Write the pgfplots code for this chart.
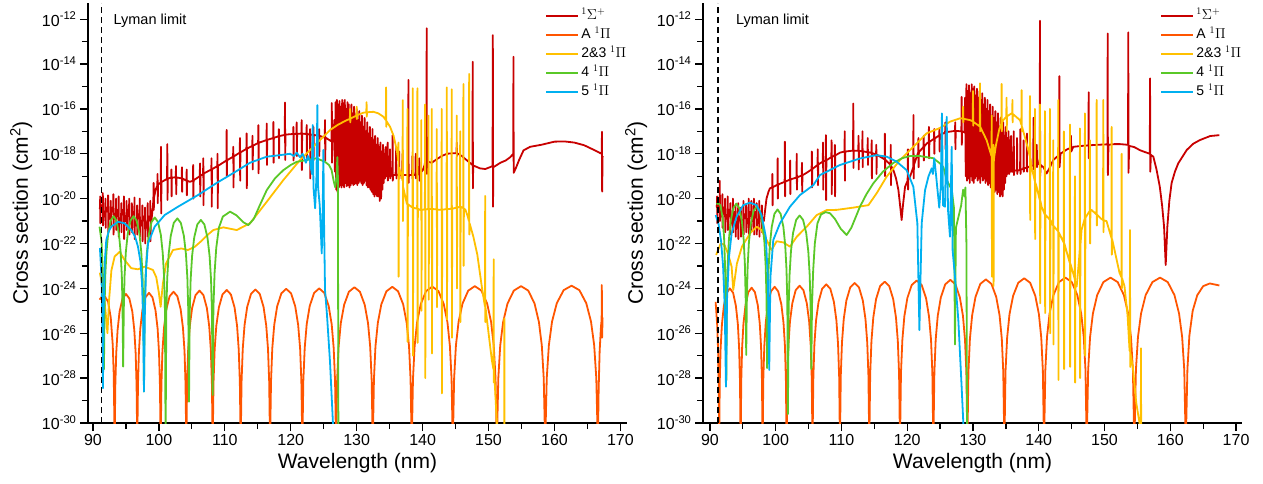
\documentclass[border=0pt]{standalone}
\usepackage{fontspec}
\setmainfont{Liberation Sans}
\usepackage{pgfplots}
\pgfplotsset{compat=1.18}
\definecolor{cS}{RGB}{200,0,0}
\definecolor{cA}{RGB}{255,85,0}
\definecolor{cY}{RGB}{255,192,0}
\definecolor{cG}{RGB}{90,200,40}
\definecolor{cB}{RGB}{0,176,240}
\pgfplotsset{
 panel/.style={
  scale only axis, width=539pt, height=420pt,
  axis x line*=bottom, axis y line*=left, axis line style={-, line width=1.3pt},
  ymin=-30, ymax=-11.28,
  ytick={-30,-28,...,-12}, minor ytick={-29,-27,...,-13},
  yticklabels={10\textsuperscript{-30},10\textsuperscript{-28},10\textsuperscript{-26},10\textsuperscript{-24},10\textsuperscript{-22},10\textsuperscript{-20},10\textsuperscript{-18},10\textsuperscript{-16},10\textsuperscript{-14},10\textsuperscript{-12}},
  xtick={90,100,...,170}, minor xtick={95,105,...,165},
  tick align=outside, major tick length=8pt, minor tick length=6pt,
  every tick/.style={black, line width=1.3pt},
  ticklabel style={font=\fontsize{16}{19}\selectfont},
  /pgf/number format/assume math mode=true,
  xlabel={Wavelength (nm)}, ylabel={Cross section (cm\textsuperscript{2})},
  label style={font=\fontsize{21}{24}\selectfont},
  xlabel style={at={(axis description cs:0.5,-0.095)}, anchor=center},
  ylabel style={at={(axis description cs:-0.124,0.5)}, anchor=center},
  legend style={at={(axis description cs:0.843,0.997)}, anchor=north west, draw=none, fill=none,
    font=\fontsize{14}{16}\selectfont, row sep=0pt, nodes={inner ysep=2.5pt, text height=10.5pt, text depth=3.5pt}},
  legend cell align=left,
  legend image code/.code={\draw[#1,line width=1.8pt] (0pt,0pt) -- (32pt,0pt);},
  every axis plot/.append style={line width=1.8pt, line join=round, no marks},
 }
}
\begin{document}
\begin{tikzpicture}
\useasboundingbox (-88pt,-60pt) rectangle (1175pt,423pt);
%================ LEFT PANEL =================
\begin{axis}[panel, xmin=89.25, xmax=171.0]
% 1Sigma+
\addplot[cS] coordinates {
(91.0,-20.4) (91.07,-20.45) (91.1,-19.9) (91.13,-21.1) (91.16,-20.5) (91.3,-20.3) (91.47,-20.55) (91.5,-19.75) (91.53,-21.2) (91.56,-20.6) (91.7,-20.8) (91.87,-20.5) (91.9,-20.0) (91.93,-21.3) (91.96,-20.55) (92.1,-20.4) (92.27,-20.6) (92.3,-19.85) (92.33,-21.5) (92.36,-20.65) (92.5,-20.9) (92.67,-20.6) (92.7,-20.1) (92.73,-21.2) (92.76,-20.6) (92.9,-20.4) (93.07,-20.6) (93.1,-19.8) (93.13,-21.6) (93.16,-20.65) (93.3,-20.9) (93.47,-20.7) (93.5,-20.0) (93.53,-21.4) (93.56,-20.7) (93.7,-20.5) (93.87,-20.8) (93.9,-19.9) (93.93,-21.7) (93.96,-20.85) (94.1,-21.1) (94.27,-20.8) (94.3,-20.2) (94.33,-21.5) (94.36,-20.8) (94.5,-20.5) (94.67,-20.7) (94.7,-19.9) (94.73,-21.8) (94.76,-20.75) (94.9,-21.0) (95.07,-20.7) (95.1,-20.1) (95.13,-21.4) (95.16,-20.75) (95.3,-20.5) (95.47,-20.8) (95.5,-20.0) (95.53,-21.6) (95.56,-20.85) (95.7,-21.1) (95.87,-20.8) (95.9,-20.2) (95.93,-21.5) (95.96,-20.8) (96.1,-20.6) (96.27,-20.85) (96.3,-19.95) (96.33,-21.8) (96.36,-20.9) (96.5,-21.2) (96.67,-20.9) (96.7,-20.3) (96.73,-21.6) (96.76,-20.9) (96.9,-20.7) (97.07,-20.9) (97.1,-20.0) (97.13,-21.7) (97.16,-20.95) (97.3,-21.2) (97.47,-21.0) (97.5,-20.3) (97.53,-21.9) (97.56,-21.0) (97.7,-20.8) (97.87,-21.0) (97.9,-20.4) (97.93,-22.0) (97.96,-21.05) (98.1,-21.3) (98.27,-21.0) (98.3,-20.2) (98.33,-21.7) (98.36,-21.0) (98.5,-20.8) (98.67,-21.0) (98.7,-20.1) (98.73,-21.9) (98.76,-21.0) (98.9,-20.9)
(99.0,-20.6) (99.16,-20.1) (99.2,-19.3) (99.23,-20.5) (99.27,-19.95) (99.5,-19.6)
(99.76,-19.42) (99.8,-18.9) (99.83,-20.2) (99.87,-19.38)
(100.28,-19.28) (100.32,-17.69) (100.35,-20.66) (100.39,-19.26)
(101.24,-19.12) (101.28,-17.57) (101.31,-20.06) (101.35,-19.11)
(101.86,-19.06) (101.9,-18.7) (101.93,-19.9) (101.97,-19.06)
(102.56,-19.05) (102.6,-18.55) (102.63,-19.8) (102.67,-19.05)
(103.46,-19.1) (103.5,-18.6) (103.53,-19.7) (103.57,-19.1)
(104.18,-19.2) (104.22,-18.7) (104.25,-19.85) (104.29,-19.2) (104.7,-19.25)
(105.16,-19.2) (105.2,-18.5) (105.23,-20.0) (105.27,-19.18)
(106.2,-19.0) (106.24,-18.43) (106.27,-19.9) (106.31,-18.98)
(106.7,-18.9) (106.74,-18.2) (106.77,-20.29) (106.81,-18.88)
(107.95,-18.7) (107.99,-18.2) (108.02,-20.36) (108.06,-18.69)
(108.86,-18.55) (108.9,-18.0) (108.93,-20.43) (108.97,-18.54) (109.6,-18.42)
(110.24,-18.3) (110.28,-16.94) (110.31,-19.0) (110.35,-18.29)
(111.25,-18.13) (111.29,-17.69) (111.32,-19.5) (111.36,-18.12)
(112.26,-17.95) (112.3,-17.3) (112.33,-19.2) (112.37,-17.94)
(113.27,-17.78) (113.31,-17.09) (113.34,-19.54) (113.38,-17.77)
(114.16,-17.65) (114.2,-17.2) (114.23,-18.7) (114.27,-17.64)
(115.05,-17.52) (115.09,-16.72) (115.12,-18.87) (115.16,-17.51)
(116.32,-17.39) (116.36,-16.65) (116.39,-18.5) (116.43,-17.38)
(117.33,-17.3) (117.37,-16.58) (117.4,-18.4) (117.44,-17.29)
(118.16,-17.22) (118.2,-16.9) (118.23,-18.2) (118.27,-17.21)
(119.09,-17.16) (119.13,-15.72) (119.16,-18.28) (119.2,-17.15) (119.8,-17.13)
(120.36,-17.12) (120.4,-16.8) (120.43,-18.3) (120.47,-17.12)
(120.86,-17.11) (120.9,-16.6) (120.93,-18.1) (120.97,-17.11)
(121.62,-17.1) (121.66,-16.5) (121.69,-18.73) (121.73,-17.1)
(122.38,-17.12) (122.42,-16.72) (122.45,-18.2) (122.49,-17.12)
(122.89,-17.14) (122.93,-16.9) (122.96,-19.1) (123.0,-17.14)
(123.39,-17.16) (123.43,-16.8) (123.46,-18.3) (123.5,-17.16)
(124.26,-17.2) (124.3,-16.9) (124.33,-18.1) (124.37,-17.2)
(125.16,-17.28) (125.2,-16.5) (125.23,-18.3) (125.27,-17.28)
(126.19,-17.45) (126.23,-15.74) (126.26,-18.4) (126.3,-17.45) (126.5,-17.45)
(126.6,-16.5) (126.7,-18.8) (126.8,-15.7) (126.9,-19.6) (127.0,-15.6) (127.1,-19.7) (127.2,-15.8) (127.3,-19.5) (127.4,-15.65) (127.5,-19.4) (127.6,-15.9) (127.7,-19.5) (127.8,-15.6) (127.9,-19.4) (128.0,-15.75) (128.1,-19.5) (128.2,-15.6) (128.3,-19.3) (128.4,-16.0) (128.5,-19.45) (128.6,-15.7) (128.7,-19.4) (128.8,-15.8) (128.9,-19.5) (129.0,-16.1) (129.1,-19.4) (129.2,-15.8) (129.3,-19.3) (129.4,-16.2) (129.5,-19.4) (129.6,-15.9) (129.7,-19.35) (129.8,-16.4) (129.9,-19.3) (130.0,-16.0) (130.1,-19.4) (130.2,-16.5) (130.3,-19.3) (130.4,-16.1) (130.5,-19.2) (130.6,-16.6) (130.7,-19.3) (130.8,-16.3) (130.9,-19.4) (131.0,-16.8) (131.1,-19.3) (131.2,-16.4) (131.3,-19.2) (131.4,-17.0) (131.5,-19.4) (131.6,-16.6) (131.7,-19.5) (131.8,-17.1) (131.9,-19.5) (132.0,-16.8) (132.1,-19.6) (132.2,-17.3) (132.3,-19.7) (132.4,-16.9) (132.5,-19.8) (132.6,-17.4) (132.7,-19.9) (132.8,-17.2) (132.9,-19.8) (133.0,-17.6) (133.1,-19.9) (133.2,-17.3) (133.3,-19.9) (133.4,-17.7) (133.5,-20.1) (133.6,-17.5) (133.7,-20.0) (133.8,-17.9) (133.9,-19.6) (134.0,-17.6) (134.1,-19.3) (134.2,-18.0) (134.3,-19.1) (134.4,-17.7) (134.5,-19.0)
(134.6,-19.0) (134.7,-17.5) (134.73,-19.2) (134.77,-19.0) (135.0,-19.0) (135.05,-17.8) (135.08,-19.1) (135.12,-19.0) (135.4,-18.95) (135.45,-17.17) (135.48,-19.2) (135.52,-18.95) (135.9,-18.95) (136.0,-17.7) (136.03,-19.1) (136.07,-18.95) (136.4,-18.95) (136.45,-17.9) (136.48,-19.1) (136.52,-18.95) (136.9,-18.95) (136.95,-18.0) (136.98,-19.1) (137.02,-18.95) (137.81,-18.95) (137.85,-14.71) (137.88,-19.3) (137.92,-18.95) (138.4,-18.95) (138.45,-18.1) (138.48,-19.1) (138.52,-18.95) (138.9,-18.95) (138.95,-18.0) (138.98,-19.1) (139.02,-18.95) (139.45,-18.9) (139.5,-18.2) (139.53,-19.2) (139.57,-18.87)
(140.0,-18.75) (140.3,-18.5) (140.5,-18.1) (140.58,-17.5) (140.62,-12.41) (140.65,-18.9) (140.75,-18.35) (141.4,-18.4) (142.1,-18.25) (142.9,-18.1) (143.7,-18.0) (144.42,-17.98) (145.14,-17.98) (145.18,-17.5) (145.21,-18.1) (145.25,-17.98) (145.94,-18.1) (146.95,-18.35) (147.56,-18.5) (147.6,-13.9) (147.63,-19.54) (147.67,-18.52) (148.7,-18.65) (149.5,-18.68) (150.2,-18.6) (150.61,-18.55) (150.65,-12.71) (150.68,-20.36) (150.72,-18.6) (151.0,-18.55) (151.8,-18.4) (152.6,-18.3) (153.3,-18.15) (153.74,-18.0) (153.78,-13.68) (153.81,-18.85) (154.2,-18.6) (154.6,-18.3) (155.3,-17.85) (156.3,-17.69) (158.0,-17.6) (160.0,-17.46) (161.5,-17.45) (163.0,-17.5) (164.5,-17.62) (166.0,-17.83) (167.0,-17.98) (167.17,-18.0) (167.2,-17.02) (167.23,-19.69) (167.3,-18.1)
};
\addlegendentry{$^1\Sigma^+$}
% A 1Pi
\addplot[cA] coordinates {
(91.0,-24.5) (91.4,-24.35) (91.8,-24.35) (92.3,-24.6) (92.7,-25.3) (93.0,-26.5) (93.15,-27.8) (93.22,-29.3) (93.29,-31)
(93.39,-28.36) (93.53,-26.9) (93.74,-25.85) (94.04,-25.03) (94.49,-24.45) (95.01,-24.25) (95.52,-24.45) (95.97,-25.03) (96.27,-25.85) (96.48,-26.9) (96.62,-28.36) (96.72,-31)
(96.83,-28.31) (96.97,-26.85) (97.18,-25.8) (97.50,-24.98) (97.96,-24.4) (98.50,-24.2) (99.03,-24.4) (99.49,-24.98) (99.81,-25.8) (100.02,-26.85) (100.16,-28.31) (100.27,-31)
(100.39,-28.26) (100.54,-26.8) (100.78,-25.75) (101.13,-24.93) (101.63,-24.35) (102.22,-24.15) (102.80,-24.35) (103.30,-24.93) (103.65,-25.75) (103.89,-26.8) (104.04,-28.26) (104.16,-31)
(104.28,-28.21) (104.44,-26.75) (104.68,-25.7) (105.04,-24.88) (105.56,-24.3) (106.16,-24.1) (106.76,-24.3) (107.28,-24.88) (107.64,-25.7) (107.88,-26.75) (108.04,-28.21) (108.16,-31)
(108.29,-28.18) (108.46,-26.72) (108.71,-25.67) (109.10,-24.85) (109.65,-24.27) (110.29,-24.07) (110.92,-24.27) (111.48,-24.85) (111.86,-25.67) (112.11,-26.72) (112.28,-28.18) (112.41,-31)
(112.54,-28.16) (112.72,-26.7) (112.99,-25.65) (113.39,-24.83) (113.97,-24.25) (114.64,-24.05) (115.30,-24.25) (115.88,-24.83) (116.28,-25.65) (116.55,-26.7) (116.73,-28.16) (116.86,-31)
(117.01,-28.13) (117.20,-26.67) (117.50,-25.62) (117.94,-24.8) (118.58,-24.22) (119.31,-24.02) (120.05,-24.22) (120.68,-24.8) (121.12,-25.62) (121.42,-26.67) (121.61,-28.13) (121.76,-31)
(121.91,-28.11) (122.12,-26.65) (122.42,-25.6) (122.88,-24.78) (123.55,-24.2) (124.32,-24.0) (125.08,-24.2) (125.75,-24.78) (126.21,-25.6) (126.51,-26.65) (126.72,-28.11) (126.87,-31)
(127.04,-28.06) (127.26,-26.6) (127.59,-25.55) (128.10,-24.73) (128.82,-24.15) (129.66,-23.95) (130.49,-24.15) (131.22,-24.73) (131.72,-25.55) (132.05,-26.6) (132.27,-28.06) (132.44,-31)
(132.62,-28.04) (132.85,-26.58) (133.21,-25.53) (133.74,-24.71) (134.51,-24.13) (135.40,-23.93) (136.28,-24.13) (137.05,-24.71) (137.58,-25.53) (137.94,-26.58) (138.17,-28.04) (138.35,-31)
(138.54,-28.03) (138.79,-26.57) (139.16,-25.52) (139.72,-24.7) (140.53,-24.12) (141.47,-23.92) (142.40,-24.12) (143.21,-24.7) (143.77,-25.52) (144.14,-26.57) (144.39,-28.03) (144.58,-31)
(144.78,-28.01) (145.05,-26.55) (145.45,-25.5) (146.05,-24.68) (146.92,-24.1) (147.92,-23.9) (148.92,-24.1) (149.79,-24.68) (150.39,-25.5) (150.79,-26.55) (151.06,-28.01) (151.26,-31)
(151.48,-28.01) (151.77,-26.55) (152.21,-25.5) (152.87,-24.68) (153.83,-24.1) (154.93,-23.9) (156.03,-24.1) (156.98,-24.68) (157.64,-25.5) (158.08,-26.55) (158.37,-28.01) (158.59,-31)
(158.83,-27.99) (159.15,-26.53) (159.63,-25.48) (160.35,-24.66) (161.39,-24.08) (162.59,-23.88) (163.78,-24.08) (164.82,-24.66) (165.54,-25.48) (166.02,-26.53) (166.34,-27.99) (166.58,-31)
(166.7,-28.5) (166.85,-26.8) (167.05,-25.7) (167.15,-25.4) (167.18,-23.85) (167.22,-26.2) (167.3,-25.3)
};
\addlegendentry{A $^1\Pi$}
% 2&3 1Pi
\addplot[cY] coordinates {
(91.05,-23.3) (91.5,-24.0) (91.9,-25.0) (92.2,-26.0) (92.45,-24.5) (92.8,-23.2) (93.29,-22.58) (94.05,-22.37) (94.81,-22.74) (95.81,-23.1) (96.83,-23.15) (97.84,-23.03) (99.1,-23.18) (99.6,-23.5) (100.0,-24.2) (100.27,-24.82) (100.6,-23.8) (101.1,-22.88) (102.14,-22.29) (103.4,-22.22) (104.4,-22.29) (105.43,-22.15) (106.4,-21.9) (107.45,-21.6) (108.26,-21.4) (109.77,-21.28) (111.8,-21.4) (113.82,-21.1) (116.36,-20.14) (118.88,-19.17) (121.41,-18.28) (123.94,-17.54) (125.96,-16.94) (127.2,-16.7) (128.5,-16.5)
(128.96,-16.45) (129.0,-16.0) (129.03,-16.6) (129.07,-16.43) (129.96,-16.3) (130.0,-15.9) (130.03,-16.45) (130.07,-16.28) (131.02,-16.17) (131.46,-16.15) (131.5,-15.7) (131.53,-16.35) (131.57,-16.15) (132.54,-16.13) (133.3,-16.2) (134.05,-16.35) (134.42,-16.5) (134.46,-15.04) (134.49,-16.8) (134.53,-16.55) (135.07,-16.8) (135.6,-17.2) (136.08,-17.83) (136.29,-18.3) (136.33,-17.5) (136.36,-23.48) (136.4,-18.6) (136.84,-19.02) (136.95,-19.2) (136.99,-15.61) (137.02,-21.0) (137.06,-19.5) (137.6,-20.21) (137.66,-20.25) (137.7,-16.0) (137.73,-26.38) (137.77,-20.25) (138.47,-20.4) (138.51,-15.08) (138.54,-27.0) (138.58,-20.4) (139.17,-20.45) (139.21,-15.08) (139.24,-26.43) (139.28,-20.45) (139.6,-20.5) (139.76,-20.5) (139.8,-16.5) (139.83,-25.0) (139.87,-20.5) (140.34,-20.48) (140.38,-15.8) (140.41,-28.0) (140.45,-20.48) (140.86,-20.46) (140.9,-16.3) (140.93,-24.5) (140.97,-20.46) (141.35,-20.46) (141.39,-16.0) (141.42,-26.9) (141.46,-20.46) (142.11,-20.48) (142.15,-16.9) (142.18,-24.84) (142.22,-20.48) (142.5,-20.5) (142.86,-20.49) (142.9,-16.0) (142.93,-28.68) (142.97,-20.49) (143.63,-20.47) (143.67,-15.04) (143.7,-25.4) (143.74,-20.47) (144.38,-20.45) (144.42,-15.13) (144.45,-26.2) (144.49,-20.45) (145.14,-20.4) (145.18,-16.3) (145.21,-24.0) (145.25,-20.4) (145.66,-20.36) (145.7,-17.0) (145.73,-25.5) (145.77,-20.36) (146.15,-20.42) (146.19,-14.89) (146.22,-23.0) (146.26,-20.44) (146.5,-20.5) (146.85,-20.8) (147.02,-21.0) (147.06,-14.44) (147.09,-21.6) (147.13,-21.1) (147.7,-21.7) (148.3,-22.5) (148.98,-23.93) (149.45,-24.8) (149.49,-19.88) (149.52,-25.5) (149.56,-24.9) (149.8,-25.5) (150.5,-27.2) (150.74,-27.6) (150.78,-22.7) (150.81,-28.2) (150.85,-27.7) (151.26,-30) (151.4,-31) (152.37,-31) (152.4,-25.34) (152.43,-31)
};
\addlegendentry{2\&3 $^1\Pi$}
% 4 1Pi
\addplot[cG] coordinates {
(91.0,-21.25) (91.3,-21.9) (91.5,-23.3) (91.6,-25.0) (91.67,-27.6)
(91.76,-24.89) (91.87,-23.43) (92.05,-22.38) (92.31,-21.56) (92.69,-20.98) (93.13,-20.78) (93.56,-20.98) (93.94,-21.56) (94.20,-22.38) (94.38,-23.43) (94.49,-24.89) (94.58,-27.49)
(94.68,-24.89) (94.80,-23.43) (94.99,-22.38) (95.28,-21.56) (95.69,-20.98) (96.16,-20.78) (96.63,-20.98) (97.05,-21.56) (97.33,-22.38) (97.52,-23.43) (97.65,-24.89) (97.74,-28.6)
(97.84,-24.95) (97.97,-23.49) (98.17,-22.44) (98.46,-21.62) (98.89,-21.04) (99.38,-20.84) (99.87,-21.04) (100.30,-21.62) (100.59,-22.44) (100.79,-23.49) (100.92,-24.95) (101.02,-31)
(101.13,-24.99) (101.27,-23.53) (101.48,-22.48) (101.80,-21.66) (102.26,-21.08) (102.80,-20.88) (103.33,-21.08) (103.79,-21.66) (104.11,-22.48) (104.32,-23.53) (104.46,-24.99) (104.57,-29.05)
(104.68,-25.06) (104.82,-23.6) (105.04,-22.55) (105.36,-21.73) (105.83,-21.15) (106.37,-20.95) (106.90,-21.15) (107.37,-21.73) (107.69,-22.55) (107.91,-23.6) (108.05,-25.06) (108.16,-28.75)
(108.27,-24.9) (108.45,-23.3) (108.7,-22.2) (109.1,-21.3) (109.7,-20.8) (110.8,-20.58) (111.8,-20.75) (112.8,-21.05) (113.57,-21.18) (114.4,-20.9) (115.3,-20.3) (116.36,-19.62) (117.6,-19.1) (118.88,-18.73) (120.0,-18.5) (120.9,-18.36) (122.4,-18.28) (123.9,-18.2) (125.2,-18.36) (125.8,-18.5) (126.2,-18.73) (126.5,-19.2) (126.75,-19.5) (126.95,-19.0) (127.07,-18.15) (127.15,-19.0) (127.23,-31)
};
\addlegendentry{4 $^1\Pi$}
% 5 1Pi
\addplot[cB] coordinates {
(91.06,-22.2) (91.3,-23.5) (91.45,-26.0) (91.52,-28.45) (91.62,-25.0) (91.8,-22.8) (92.02,-21.85) (92.4,-21.45) (92.78,-21.25) (93.79,-21.03) (94.8,-21.1) (95.82,-21.4) (96.4,-21.7) (96.83,-22.14) (97.2,-22.8) (97.45,-23.8) (97.62,-25.5) (97.74,-28.6) (97.86,-25.3) (98.05,-23.2) (98.35,-22.0) (99.36,-21.25) (100.88,-20.73) (102.9,-20.36) (105.93,-19.84) (108.77,-19.3) (111.29,-18.86) (113.82,-18.4) (116.36,-18.13) (118.4,-18.06) (119.9,-18.0) (120.5,-18.1) (120.9,-17.95) (121.4,-18.15) (121.8,-18.0) (122.3,-18.4) (122.6,-18.1) (122.9,-18.3) (123.2,-18.9) (123.33,-16.72) (123.45,-19.5) (123.7,-20.43) (123.9,-19.0) (124.04,-15.83) (124.15,-19.5) (124.4,-20.3) (124.7,-22.44) (124.85,-20.5) (124.95,-17.83) (125.05,-21.0) (125.2,-24.07) (125.5,-25.2) (125.96,-27.3) (126.4,-30) (126.5,-31)
};
\addlegendentry{5 $^1\Pi$}
\addplot[black, line width=1.8pt, dash pattern=on 6pt off 4pt, forget plot] coordinates {(91.3,-30) (91.3,-11.28)};
\node[anchor=west, font=\fontsize{14.5}{17}\selectfont] at (axis cs:92.6,-12.05) {Lyman limit};
\end{axis}
%================ RIGHT PANEL =================
\begin{axis}[panel, at={(615pt,0pt)}, xmin=88.95, xmax=170.9]
\addplot[cS] coordinates {
(91.0,-20.3) (91.07,-20.4) (91.1,-19.9) (91.13,-21.1) (91.16,-20.5) (91.3,-20.3) (91.47,-20.5) (91.5,-19.2) (91.53,-21.0) (91.56,-20.55) (91.7,-20.8) (91.87,-20.6) (91.9,-19.8) (91.93,-21.3) (91.96,-20.6) (92.1,-20.4) (92.27,-20.7) (92.3,-20.0) (92.33,-21.5) (92.36,-20.7) (92.5,-20.9) (92.67,-20.75) (92.7,-19.9) (92.73,-21.4) (92.76,-20.75) (92.9,-20.5) (93.07,-20.8) (93.1,-20.2) (93.13,-21.6) (93.16,-20.8) (93.3,-21.1) (93.47,-20.9) (93.5,-20.0) (93.53,-21.5) (93.56,-20.9) (93.7,-20.6) (93.87,-21.0) (93.9,-20.3) (93.93,-21.7) (93.96,-21.0) (94.1,-21.3) (94.27,-21.1) (94.3,-20.2) (94.33,-21.8) (94.36,-21.1) (94.5,-20.8) (94.67,-21.0) (94.7,-20.4) (94.73,-21.7) (94.76,-21.0) (94.9,-21.2) (95.07,-20.9) (95.1,-20.1) (95.13,-21.6) (95.16,-20.9) (95.3,-20.7) (95.47,-20.9) (95.5,-20.3) (95.53,-21.5) (95.56,-20.9) (95.7,-21.1) (95.87,-20.85) (95.9,-20.0) (95.93,-21.7) (95.96,-20.85) (96.1,-20.6) (96.27,-20.8) (96.3,-20.1) (96.33,-21.4) (96.36,-20.8) (96.5,-21.0) (96.67,-20.8) (96.7,-20.0) (96.73,-21.6) (96.76,-20.8) (96.9,-20.6) (97.07,-20.85) (97.1,-20.2) (97.13,-21.6) (97.16,-20.9) (97.3,-21.1) (97.47,-20.9) (97.5,-20.1) (97.53,-21.7) (97.56,-20.9) (97.7,-20.7) (97.87,-20.9) (97.9,-20.3) (97.93,-21.5) (97.96,-20.85) (98.1,-20.9) (98.2,-21.0)
(98.4,-20.5) (98.6,-20.0) (98.9,-19.7) (99.12,-19.54)
(99.46,-19.5) (99.5,-18.9) (99.53,-20.3) (99.57,-19.49)
(100.26,-19.38) (100.3,-18.2) (100.33,-20.0) (100.37,-19.37)
(101.36,-19.25) (101.4,-17.46) (101.43,-19.9) (101.47,-19.24)
(102.16,-19.15) (102.2,-18.3) (102.23,-19.8) (102.27,-19.14)
(103.16,-19.06) (103.2,-18.0) (103.23,-19.6) (103.27,-19.05)
(103.96,-18.97) (104.0,-18.4) (104.03,-19.7) (104.07,-18.96) (104.7,-18.85)
(105.46,-18.7) (105.5,-17.9) (105.53,-19.5) (105.57,-18.68)
(106.36,-18.5) (106.4,-17.8) (106.43,-19.4) (106.47,-18.48)
(107.16,-18.35) (107.2,-17.5) (107.23,-19.6) (107.27,-18.34)
(107.6,-18.3) (107.64,-17.17) (107.67,-20.06) (107.71,-18.29)
(108.46,-18.15) (108.5,-17.4) (108.53,-19.8) (108.57,-18.14)
(108.96,-18.08) (109.0,-17.6) (109.03,-19.9) (109.07,-18.07) (109.79,-17.95)
(110.46,-17.9) (110.5,-17.0) (110.53,-19.2) (110.57,-17.9)
(111.76,-17.86) (111.8,-15.76) (111.83,-18.63) (111.87,-17.86)
(112.56,-17.87) (112.6,-17.2) (112.63,-18.7) (112.67,-17.87)
(113.16,-17.89) (113.2,-17.0) (113.23,-18.6) (113.27,-17.89)
(113.96,-17.93) (114.0,-17.3) (114.03,-18.5) (114.07,-17.93)
(114.56,-17.96) (114.6,-17.4) (114.63,-19.1) (114.67,-17.97)
(115.26,-18.03) (115.3,-17.6) (115.33,-18.9) (115.37,-18.04)
(116.56,-18.25) (116.6,-17.1) (116.63,-19.0) (116.67,-18.26)
(117.46,-18.5) (117.5,-17.6) (117.53,-19.4) (117.57,-18.55)
(117.9,-18.73) (118.3,-19.1) (118.66,-19.62) (118.95,-20.4) (119.15,-20.95) (119.35,-20.3) (119.67,-19.47)
(120.06,-19.2) (120.1,-17.8) (120.13,-19.6) (120.17,-19.15) (120.43,-19.02)
(120.91,-18.6) (120.95,-16.27) (120.98,-19.1) (121.02,-18.5) (121.44,-18.13)
(121.66,-17.95) (121.7,-17.3) (121.73,-18.6) (121.77,-17.93)
(122.46,-17.7) (122.5,-17.2) (122.53,-18.3) (122.57,-17.68) (122.97,-17.54)
(123.26,-17.48) (123.3,-16.8) (123.33,-18.2) (123.37,-17.47)
(124.06,-17.33) (124.1,-16.9) (124.13,-18.0) (124.17,-17.32)
(124.86,-17.18) (124.9,-16.9) (124.93,-17.9) (124.97,-17.17)
(125.76,-17.05) (125.8,-16.6) (125.83,-17.8) (125.87,-17.04)
(127.26,-16.98) (127.3,-16.6) (127.33,-17.8) (127.37,-16.98)
(128.23,-17.0) (128.27,-15.46) (128.3,-17.6) (128.34,-17.0) (128.7,-17.05)
(128.8,-15.5) (128.9,-19.0) (129.0,-14.9) (129.1,-19.2) (129.2,-15.2) (129.3,-19.1) (129.4,-14.95) (129.5,-19.3) (129.6,-15.3) (129.7,-19.0) (129.8,-14.9) (129.9,-19.2) (130.0,-15.1) (130.1,-19.3) (130.2,-15.0) (130.3,-19.1) (130.4,-15.4) (130.5,-19.0) (130.6,-15.1) (130.7,-19.2) (130.8,-15.5) (130.9,-19.1) (131.0,-15.2) (131.1,-19.3) (131.2,-15.6) (131.3,-19.0) (131.4,-15.3) (131.5,-19.2) (131.6,-15.8) (131.7,-19.1) (131.8,-15.5) (131.9,-19.3) (132.0,-16.0) (132.1,-19.2) (132.2,-15.6) (132.3,-19.4) (132.4,-16.1) (132.5,-19.3) (132.6,-15.8) (132.7,-19.5) (132.8,-16.3) (132.9,-19.6) (133.0,-15.9) (133.1,-19.5) (133.2,-16.4) (133.3,-19.7) (133.4,-16.1) (133.5,-19.6) (133.6,-16.6) (133.7,-19.8) (133.8,-16.2) (133.9,-19.7) (134.0,-16.8) (134.1,-19.9) (134.2,-16.4) (134.3,-19.8) (134.4,-17.0) (134.5,-19.9) (134.6,-16.6) (134.7,-19.6) (134.8,-17.2) (134.9,-19.3) (135.0,-16.8) (135.1,-19.0) (135.2,-17.3) (135.3,-18.9) (135.4,-17.0) (135.5,-18.9) (135.6,-17.4) (135.7,-18.8) (135.8,-17.2) (135.9,-18.8)
(136.16,-18.8) (136.2,-17.0) (136.23,-18.95) (136.27,-18.75) (136.66,-18.75) (136.7,-17.3) (136.73,-18.9) (136.77,-18.75) (137.16,-18.72) (137.2,-16.9) (137.23,-18.9) (137.27,-18.7) (137.66,-18.68) (137.7,-17.4) (137.73,-18.8) (137.77,-18.65) (138.16,-18.62) (138.2,-17.1) (138.23,-18.8) (138.27,-18.6) (138.66,-18.58) (138.7,-17.5) (138.73,-18.7) (138.77,-18.55) (139.16,-18.52) (139.2,-16.4) (139.23,-18.7) (139.27,-18.5) (139.66,-18.5) (139.7,-17.6) (139.73,-18.6) (139.77,-18.48)
(140.0,-18.45) (140.15,-18.2) (140.18,-12.07) (140.21,-19.0) (140.3,-18.5) (140.7,-18.6) (141.19,-18.88) (141.7,-18.6) (142.2,-18.28) (143.09,-18.05) (143.13,-14.54) (143.16,-18.6) (143.3,-18.0) (144.2,-17.82) (144.86,-17.73) (144.9,-17.2) (144.93,-17.9) (145.25,-17.69) (146.5,-17.65) (147.55,-17.63) (147.59,-15.26) (147.62,-18.2) (147.78,-17.62) (149.0,-17.6) (150.31,-17.58) (150.44,-17.58) (150.48,-12.64) (150.51,-18.95) (150.6,-17.6) (151.5,-17.57) (152.34,-17.57) (153.57,-17.6) (153.61,-12.59) (153.64,-18.85) (153.75,-17.65) (154.5,-17.7) (155.38,-17.84) (156.2,-17.93) (156.88,-18.0) (156.92,-14.64) (156.95,-18.8) (157.05,-18.05) (157.42,-18.13) (157.9,-18.7) (158.4,-19.47) (158.75,-20.3) (159.05,-21.25) (159.3,-22.96) (159.55,-21.25) (159.85,-20.1) (160.2,-19.3) (160.7,-18.8) (161.2,-18.43) (162.5,-17.83) (163.5,-17.55) (164.5,-17.39) (166.05,-17.21) (167.46,-17.17)
};
\addlegendentry{$^1\Sigma^+$}
\addplot[cA] coordinates {
(90.87,-24.6) (91.1,-25.6) (91.25,-26.8) (91.35,-28.5) (91.4,-31)
(91.50,-28.11) (91.63,-26.65) (91.83,-25.6) (92.12,-24.78) (92.55,-24.2) (93.04,-24.0) (93.53,-24.2) (93.95,-24.78) (94.25,-25.6) (94.44,-26.65) (94.57,-28.11) (94.67,-31)
(94.77,-28.08) (94.90,-26.62) (95.10,-25.57) (95.41,-24.75) (95.84,-24.17) (96.34,-23.97) (96.84,-24.17) (97.28,-24.75) (97.58,-25.57) (97.78,-26.62) (97.91,-28.08) (98.01,-31)
(98.12,-28.04) (98.27,-26.58) (98.49,-25.53) (98.81,-24.71) (99.29,-24.13) (99.84,-23.93) (100.38,-24.13) (100.86,-24.71) (101.19,-25.53) (101.41,-26.58) (101.55,-28.04) (101.66,-31)
(101.78,-27.99) (101.94,-26.53) (102.17,-25.48) (102.53,-24.66) (103.04,-24.08) (103.63,-23.88) (104.22,-24.08) (104.73,-24.66) (105.09,-25.48) (105.32,-26.53) (105.48,-27.99) (105.6,-31)
(105.73,-27.93) (105.89,-26.47) (106.14,-25.42) (106.52,-24.6) (107.06,-24.02) (107.69,-23.82) (108.31,-24.02) (108.85,-24.6) (109.23,-25.42) (109.48,-26.47) (109.65,-27.93) (109.77,-31)
(109.90,-27.87) (110.08,-26.41) (110.35,-25.36) (110.75,-24.54) (111.33,-23.96) (112.00,-23.76) (112.67,-23.96) (113.25,-24.54) (113.65,-25.36) (113.92,-26.41) (114.10,-27.87) (114.23,-31)
(114.37,-27.81) (114.56,-26.35) (114.84,-25.3) (115.26,-24.48) (115.87,-23.9) (116.57,-23.7) (117.27,-23.9) (117.87,-24.48) (118.29,-25.3) (118.57,-26.35) (118.76,-27.81) (118.9,-31)
(119.05,-27.76) (119.26,-26.3) (119.56,-25.25) (120.02,-24.43) (120.68,-23.85) (121.44,-23.65) (122.20,-23.85) (122.86,-24.43) (123.31,-25.25) (123.62,-26.3) (123.82,-27.76) (123.97,-31)
(124.13,-27.73) (124.33,-26.27) (124.64,-25.22) (125.11,-24.4) (125.78,-23.82) (126.56,-23.62) (127.33,-23.82) (128.00,-24.4) (128.47,-25.22) (128.78,-26.27) (128.99,-27.73) (129.14,-31)
(129.31,-27.71) (129.53,-26.25) (129.87,-25.2) (130.38,-24.38) (131.11,-23.8) (131.96,-23.6) (132.80,-23.8) (133.53,-24.38) (134.04,-25.2) (134.38,-26.25) (134.60,-27.71) (134.77,-31)
(134.95,-27.66) (135.19,-26.2) (135.55,-25.15) (136.10,-24.33) (136.88,-23.75) (137.79,-23.55) (138.69,-23.75) (139.47,-24.33) (140.02,-25.15) (140.38,-26.2) (140.62,-27.66) (140.8,-31)
(141.00,-27.63) (141.25,-26.17) (141.64,-25.12) (142.23,-24.3) (143.07,-23.72) (144.05,-23.52) (145.02,-23.72) (145.86,-24.3) (146.45,-25.12) (146.84,-26.17) (147.10,-27.63) (147.29,-31)
(147.51,-27.63) (147.80,-26.17) (148.23,-25.12) (148.88,-24.3) (149.82,-23.72) (150.91,-23.52) (152.00,-23.72) (152.94,-24.3) (153.59,-25.12) (154.02,-26.17) (154.31,-27.63) (154.53,-31)
(154.77,-27.63) (155.08,-26.17) (155.55,-25.12) (156.25,-24.3) (157.27,-23.72) (158.44,-23.52) (159.61,-23.72) (160.63,-24.3) (161.33,-25.12) (161.80,-26.17) (162.12,-27.63) (162.35,-31)
(162.6,-27.6) (162.9,-26.1) (163.4,-25.0) (164.1,-24.3) (165.0,-23.9) (166.0,-23.78) (167.46,-23.87)
};
\addlegendentry{A $^1\Pi$}
\addplot[cY] coordinates {
(90.94,-22.51) (91.64,-22.0) (92.2,-22.05) (92.8,-22.5) (93.3,-23.03) (93.55,-24.07) (94.1,-22.9) (94.87,-22.14) (96.1,-21.55) (97.1,-21.25) (97.86,-21.4) (98.62,-21.84) (99.38,-22.29) (100.14,-21.9) (101.16,-21.95) (102.17,-22.14) (103.2,-21.7) (104.72,-21.25) (106.24,-20.73) (107.76,-20.51) (109.28,-20.5) (111.81,-20.4) (114.1,-20.29) (115.35,-19.76) (116.87,-19.02) (118.9,-18.28) (120.93,-17.69) (122.95,-17.09) (124.98,-16.85) (126.5,-16.57) (128.02,-16.42)
(128.46,-16.43) (128.5,-15.9) (128.53,-16.6) (128.57,-16.44) (129.54,-16.5) (129.96,-16.55) (130.0,-15.2) (130.03,-16.75) (130.07,-16.58) (131.02,-16.78) (131.06,-14.86) (131.09,-17.0) (131.13,-16.82) (132.07,-17.39) (132.81,-18.1) (132.85,-16.3) (132.88,-23.48) (132.92,-18.2) (133.06,-18.3) (133.1,-17.6) (133.13,-23.9) (133.17,-18.25) (133.5,-17.6) (134.0,-16.9) (134.31,-16.65) (134.35,-14.89) (134.38,-17.0) (134.42,-16.6) (134.6,-16.5) (135.06,-16.35) (135.1,-15.5) (135.13,-17.0) (135.17,-16.33) (135.87,-16.2) (135.96,-16.21) (136.0,-15.6) (136.03,-16.6) (136.07,-16.23) (137.14,-16.5) (137.35,-16.7) (137.39,-15.16) (137.42,-17.0) (137.46,-16.8) (138.15,-17.54) (138.62,-18.1) (138.66,-15.43) (138.69,-20.95) (138.73,-18.2) (138.91,-18.58) (139.38,-19.2) (139.42,-16.0) (139.45,-21.8) (139.49,-19.3) (139.67,-19.47) (140.14,-20.05) (140.18,-15.8) (140.21,-24.67) (140.25,-20.1) (140.43,-20.36) (140.9,-20.7) (140.94,-16.1) (140.97,-25.1) (141.01,-20.72) (141.66,-20.93) (141.7,-16.0) (141.73,-26.0) (141.77,-20.95) (142.16,-21.2) (142.2,-17.4) (142.23,-26.5) (142.27,-21.22) (142.92,-21.45) (142.96,-15.6) (142.99,-28.08) (143.03,-21.5) (143.78,-21.95) (143.82,-17.0) (143.85,-27.6) (143.89,-22.0) (144.7,-22.85) (144.74,-16.7) (144.77,-27.5) (144.81,-22.9) (145.4,-23.5) (145.46,-23.6) (145.5,-19.0) (145.53,-28.2) (145.57,-23.7) (145.76,-23.92) (146.1,-22.8) (146.22,-22.3) (146.26,-16.87) (146.29,-28.0) (146.33,-22.1) (146.5,-21.4) (146.98,-20.9) (147.02,-16.2) (147.05,-27.0) (147.09,-20.85) (147.2,-20.8) (147.74,-20.55) (147.78,-17.4) (147.81,-22.0) (147.85,-20.55) (148.0,-20.5) (148.76,-20.7) (148.8,-15.6) (148.83,-21.2) (148.87,-20.72) (149.5,-20.9) (149.77,-20.95) (149.81,-15.6) (149.84,-21.5) (149.88,-20.97) (150.3,-21.0) (151.0,-21.7) (151.04,-21.75) (151.08,-16.8) (151.11,-22.5) (151.15,-21.8) (151.6,-22.4) (152.27,-23.3) (152.56,-23.5) (152.6,-18.0) (152.63,-24.0) (152.67,-23.55) (153.03,-23.9) (153.5,-25.2) (153.8,-26.75) (153.83,-26.8) (153.87,-21.4) (153.9,-27.5) (153.94,-26.9) (154.3,-27.5) (154.82,-29.1) (155.32,-30.0) (155.4,-31) (155.51,-31) (155.54,-26.67) (155.57,-31)
};
\addlegendentry{2\&3 $^1\Pi$}
\addplot[cG] coordinates {
(91.0,-20.25) (91.3,-20.2) (91.6,-20.3) (91.9,-20.8) (92.15,-21.7) (92.3,-23.0) (92.42,-25.0) (92.5,-28.1)
(92.59,-24.33) (92.71,-22.87) (92.89,-21.82) (93.16,-21.0) (93.56,-20.42) (94.01,-20.22) (94.46,-20.42) (94.86,-21.0) (95.13,-21.82) (95.31,-22.87) (95.43,-24.33) (95.52,-26.97)
(95.62,-24.46) (95.74,-23.0) (95.93,-21.95) (96.22,-21.13) (96.63,-20.55) (97.11,-20.35) (97.59,-20.55) (98.00,-21.13) (98.29,-21.95) (98.48,-23.0) (98.61,-24.46) (98.7,-27.55)
(98.80,-24.59) (98.92,-23.13) (99.11,-22.08) (99.40,-21.26) (99.81,-20.68) (100.28,-20.48) (100.75,-20.68) (101.17,-21.26) (101.45,-22.08) (101.64,-23.13) (101.77,-24.59) (101.86,-29.6)
(101.97,-24.86) (102.11,-23.4) (102.32,-22.35) (102.64,-21.53) (103.11,-20.95) (103.64,-20.75) (104.17,-20.95) (104.64,-21.53) (104.96,-22.35) (105.17,-23.4) (105.31,-24.86) (105.42,-27.6)
(105.52,-24.8) (105.7,-23.2) (105.95,-22.0) (106.35,-21.1) (106.9,-20.7) (107.6,-20.6) (108.25,-20.65) (109.0,-20.9) (109.9,-21.35) (110.79,-21.62) (111.5,-21.3) (112.2,-20.8) (112.81,-20.36) (113.8,-19.8) (114.84,-19.32) (116.3,-18.8) (117.88,-18.41) (119.2,-18.2) (120.42,-18.1) (121.94,-18.1) (123.97,-18.2) (124.98,-18.43) (125.5,-18.6) (126.0,-19.17) (126.76,-19.6) (127.1,-20.4) (127.26,-26.5) (127.4,-21.3) (127.8,-20.8) (128.2,-20.3) (128.5,-19.6) (128.7,-19.9) (128.85,-19.5) (129.0,-22.0) (129.1,-31)
};
\addlegendentry{4 $^1\Pi$}
\addplot[cB] coordinates {
(90.88,-20.73) (91.3,-21.1) (91.7,-21.9) (92.0,-23.0) (92.25,-24.8) (92.44,-28.38) (92.6,-24.5) (92.9,-22.6) (93.3,-21.55) (94.05,-20.81) (95.06,-20.29) (96.08,-20.18) (97.09,-20.29) (97.85,-20.73) (98.5,-21.7) (98.8,-23.5) (99.02,-27.64) (99.2,-23.5) (99.63,-21.85) (100.65,-21.1) (102.17,-20.36) (103.69,-19.84) (105.72,-19.4) (106.73,-18.95) (109.77,-18.5) (112.81,-18.21) (115.35,-18.06) (116.87,-18.13) (118.39,-18.35) (119.91,-18.73) (120.93,-19.47) (121.54,-21.1) (121.85,-25.86) (122.2,-21.1) (122.71,-19.62) (123.22,-19.02) (123.72,-18.65) (123.9,-18.9) (124.11,-18.2) (124.4,-19.0) (124.6,-19.6) (124.87,-20.4) (125.1,-19.5) (125.28,-16.2) (125.45,-20.3) (125.74,-20.36) (126.0,-16.35) (126.2,-20.5) (126.5,-21.7) (126.76,-17.69) (126.9,-22.3) (127.26,-23.48) (127.77,-25.41) (128.27,-28.38) (128.53,-30) (128.6,-31)
};
\addlegendentry{5 $^1\Pi$}
\addplot[black, line width=1.8pt, dash pattern=on 6pt off 4pt, forget plot] coordinates {(91.18,-30) (91.18,-11.28)};
\node[anchor=west, font=\fontsize{14.5}{17}\selectfont] at (axis cs:93.45,-12.05) {Lyman limit};
\end{axis}
\end{tikzpicture}
\end{document}
